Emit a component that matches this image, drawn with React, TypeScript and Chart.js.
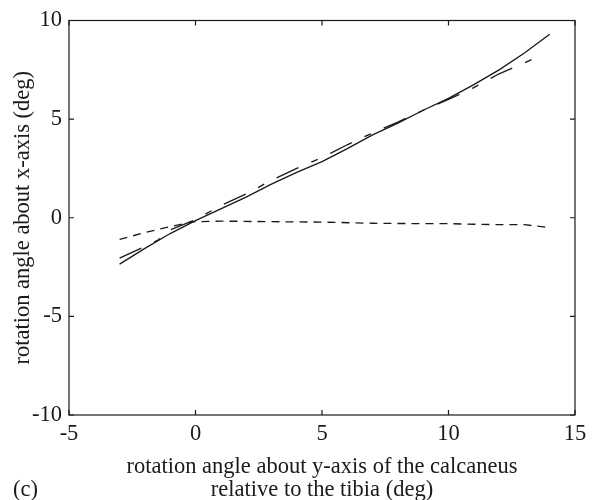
import React, { useEffect, useRef } from 'react';
import { Chart, registerables } from 'chart.js';

Chart.register(...registerables);

// ---- data ----
const solidX = [-3, -2, -1, 0, 1, 2, 3, 4, 5, 6, 7, 8, 9, 10, 11, 12, 13, 14];
const solidY = [-2.35, -1.55, -0.8, -0.15, 0.45, 1.05, 1.7, 2.3, 2.85, 3.5, 4.2, 4.8, 5.45, 6.05, 6.75, 7.5, 8.35, 9.3];

const dashDotX = [-3, -2, -1.5, -1, 0, 1, 2, 3, 4, 5, 6, 7, 8, 9, 10, 11, 12, 13, 13.5];
const dashDotY = [-2.05, -1.45, -1.15, -0.62, -0.1, 0.62, 1.2, 1.9, 2.5, 3.05, 3.7, 4.3, 4.85, 5.45, 6.0, 6.6, 7.3, 7.85, 8.15];

const dashX = [-3, -2, -1, -0.3, 0, 1, 3, 5, 7, 9, 10, 11, 12, 13, 14];
const dashY = [-1.1, -0.75, -0.45, -0.25, -0.2, -0.17, -0.2, -0.22, -0.28, -0.3, -0.3, -0.33, -0.35, -0.35, -0.5];

const xTickValues = [-5, 0, 5, 10, 15];
const yTickValues = [-10, -5, 0, 5, 10];

const xTitle = ['rotation angle about y-axis of the calcaneus', 'relative to the tibia (deg)'];
const yTitle = 'rotation angle about x-axis (deg)';
const panelLabel = '(c)';

const FONT = '"Liberation Serif", "Times New Roman", serif';
const FONT_SIZE = 22.5;
const INK = '#1a1a1a';

function pts(xs: number[], ys: number[]) {
  return xs.map((x, i) => ({ x, y: ys[i] }));
}

const framePlugin = {
  id: 'matlabFrame',
  afterDraw(chart: any) {
    const { ctx, chartArea, scales } = chart;
    const { left, right, top, bottom } = chartArea;
    ctx.save();
    ctx.strokeStyle = INK;
    ctx.lineWidth = 1.2;
    ctx.strokeRect(left, top, right - left, bottom - top);
    const tl = 5;
    ctx.beginPath();
    xTickValues.forEach((v) => {
      const px = scales.x.getPixelForValue(v);
      ctx.moveTo(px, bottom);
      ctx.lineTo(px, bottom - tl);
      ctx.moveTo(px, top);
      ctx.lineTo(px, top + tl);
    });
    yTickValues.forEach((v) => {
      const py = scales.y.getPixelForValue(v);
      ctx.moveTo(left, py);
      ctx.lineTo(left + tl, py);
      ctx.moveTo(right, py);
      ctx.lineTo(right - tl, py);
    });
    ctx.stroke();
    ctx.fillStyle = INK;
    ctx.font = `${FONT_SIZE}px ${FONT}`;
    ctx.textAlign = 'left';
    ctx.textBaseline = 'middle';
    ctx.fillText(panelLabel, 13, 490);
    ctx.restore();
  },
};

export default function App() {
  const ref = useRef<HTMLCanvasElement | null>(null);

  useEffect(() => {
    if (!ref.current) return;
    const lineCommon = {
      borderColor: INK,
      borderWidth: 1.35,
      pointRadius: 0,
      tension: 0,
      fill: false,
    };
    const chart = new Chart(ref.current, {
      type: 'line',
      data: {
        datasets: [
          { ...lineCommon, data: pts(solidX, solidY) },
          { ...lineCommon, data: pts(dashDotX, dashDotY), borderDash: [24, 14, 7, 14] },
          { ...lineCommon, data: pts(dashX, dashY), borderDash: [8, 6] },
        ],
      },
      options: {
        responsive: false,
        animation: false,
        devicePixelRatio: 1,
        layout: { padding: { top: 17, right: 21, bottom: 0, left: 0 } },
        plugins: {
          legend: { display: false },
          tooltip: { enabled: false },
        },
        scales: {
          x: {
            type: 'linear',
            min: -5,
            max: 15,
            grid: { display: false, drawTicks: false },
            border: { display: false },
            afterBuildTicks: (s: any) => {
              s.ticks = xTickValues.map((v) => ({ value: v }));
            },
            afterFit: (s: any) => {
              s.height = 85;
            },
            ticks: {
              color: INK,
              padding: 6,
              maxRotation: 0,
              autoSkip: false,
              font: { family: FONT, size: FONT_SIZE },
            },
            title: {
              display: true,
              text: xTitle,
              color: INK,
              font: { family: FONT, size: FONT_SIZE, lineHeight: '23px' },
              padding: { top: 0, bottom: -2 },
            },
          },
          y: {
            type: 'linear',
            min: -10,
            max: 10,
            grid: { display: false, drawTicks: false },
            border: { display: false },
            afterBuildTicks: (s: any) => {
              s.ticks = yTickValues.map((v) => ({ value: v }));
            },
            afterFit: (s: any) => {
              s.width = 69;
            },
            ticks: {
              color: INK,
              padding: 7,
              autoSkip: false,
              font: { family: FONT, size: FONT_SIZE },
            },
            title: {
              display: true,
              text: yTitle,
              color: INK,
              font: { family: FONT, size: FONT_SIZE, lineHeight: '23px' },
              padding: { top: 12, bottom: 0 },
            },
          },
        },
      },
      plugins: [framePlugin],
    });
    return () => chart.destroy();
  }, []);

  return (
    <div style={{ position: 'absolute', left: 0, top: 0, width: 596, height: 500, background: '#fff' }}>
      <canvas ref={ref} width={596} height={500} style={{ width: 596, height: 500 }} />
    </div>
  );
}
